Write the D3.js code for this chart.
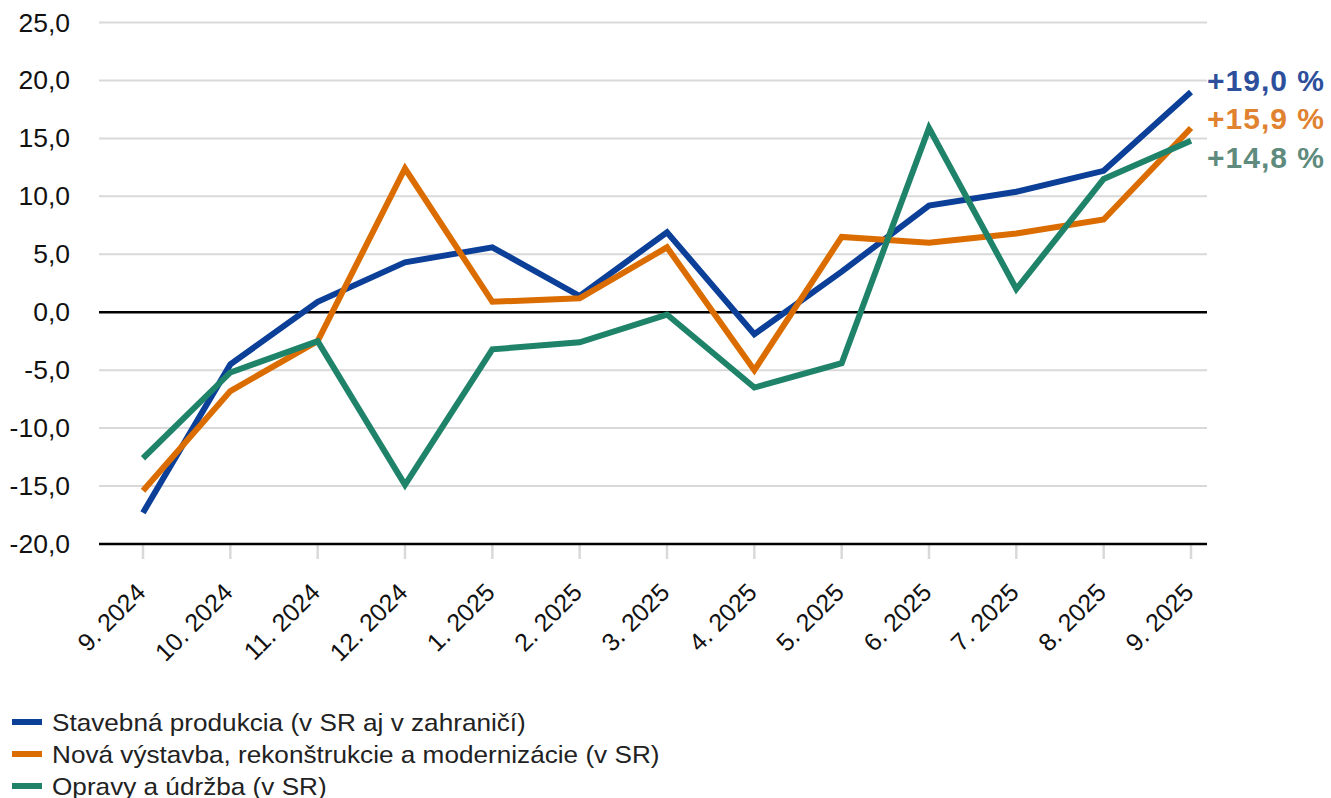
<!DOCTYPE html>
<html>
<head>
<meta charset="utf-8">
<script src="https://cdn.jsdelivr.net/npm/d3@7"></script>
<style>
  body { margin: 0; background: #fff; }
  text { font-family: "Liberation Sans", Arial, sans-serif; }
</style>
</head>
<body>
<div id="chart"></div>
<script>
// Data
var months = ["9. 2024", "10. 2024", "11. 2024", "12. 2024", "1. 2025", "2. 2025", "3. 2025",
  "4. 2025", "5. 2025", "6. 2025", "7. 2025", "8. 2025", "9. 2025"];
var stavebna = [-17.3, -4.5, 0.9, 4.3, 5.6, 1.4, 6.9, -1.9, 3.5, 9.2, 10.4, 12.2, 19.0];
var novaVystavba = [-15.4, -6.8, -2.5, 12.4, 0.9, 1.2, 5.6, -5.0, 6.5, 6.0, 6.8, 8.0, 15.9];
var opravy = [-12.6, -5.2, -2.5, -14.9, -3.2, -2.6, -0.2, -6.5, -4.4, 15.9, 2.0, 11.5, 14.8];
var yTicks = [-20, -15, -10, -5, 0, 5, 10, 15, 20, 25];
var seriesNames = ["Stavebná produkcia (v SR aj v zahraničí)",
  "Nová výstavba, rekonštrukcie a modernizácie (v SR)",
  "Opravy a údržba (v SR)"];
var endLabels = ["+19,0 %", "+15,9 %", "+14,8 %"];

var lineColors = ["#0b3f98", "#db6d00", "#1f836a"];
var labelColors = ["#2d4f9c", "#e0822f", "#5e8b7d"];

var svgWidth = 1331;
var svgHeight = 798;

var margin = { top: 22.5, right: 124, bottom: 254, left: 99 };
var width = svgWidth - margin.left - margin.right;
var height = svgHeight - margin.top - margin.bottom;

var svg = d3.select("#chart")
  .append("svg")
  .attr("width", svgWidth)
  .attr("height", svgHeight);

var chartGroup = svg.append("g")
  .attr("transform", `translate(${margin.left}, ${margin.top})`);

var xScale = d3.scalePoint()
  .domain(months)
  .range([44, width - 16]);

var yScale = d3.scaleLinear()
  .domain([-20, 25])
  .range([height, 0]);

// gridlines
chartGroup.selectAll(".grid")
  .data(yTicks.filter(d => d !== 0 && d !== -20))
  .enter()
  .append("line")
  .attr("x1", 0)
  .attr("x2", width)
  .attr("y1", d => yScale(d))
  .attr("y2", d => yScale(d))
  .attr("stroke", "#d9d9d9")
  .attr("stroke-width", 2);

// x tick marks
chartGroup.selectAll(".xtick")
  .data(months)
  .enter()
  .append("line")
  .attr("x1", d => xScale(d))
  .attr("x2", d => xScale(d))
  .attr("y1", height)
  .attr("y2", height + 15)
  .attr("stroke", "#d9d9d9")
  .attr("stroke-width", 2.5);

// zero line and bottom line
[0, -20].forEach(function(v) {
  chartGroup.append("line")
    .attr("x1", 0)
    .attr("x2", width)
    .attr("y1", yScale(v))
    .attr("y2", yScale(v))
    .attr("stroke", "#000")
    .attr("stroke-width", 2.5);
});

// y labels
var fmt = d => d3.format(".1f")(d).replace(".", ",").replace("−", "-");
chartGroup.selectAll(".ylabel")
  .data(yTicks)
  .enter()
  .append("text")
  .attr("text-anchor", "end")
  .attr("font-size", 25)
  .attr("fill", "#111")
  .attr("transform", d => `translate(-29, ${yScale(d)}) scale(1.06, 1)`)
  .attr("dy", "0.36em")
  .text(fmt);

// x labels
chartGroup.selectAll(".xlabel")
  .data(months)
  .enter()
  .append("text")
  .attr("text-anchor", "end")
  .attr("font-size", 25)
  .attr("fill", "#111")
  .attr("transform", d => `translate(${xScale(d) + 4}, ${height + 50}) rotate(-45)`)
  .text(d => d);

// lines
var allSeries = [stavebna, novaVystavba, opravy];
var line = d3.line()
  .x((d, i) => xScale(months[i]))
  .y(d => yScale(d));

allSeries.forEach(function(values, i) {
  chartGroup.append("path")
    .datum(values)
    .attr("d", line)
    .attr("fill", "none")
    .attr("stroke", lineColors[i])
    .attr("stroke-width", 6)
    .attr("stroke-linejoin", "miter");
});

// end labels
var endY = [90.5, 129, 168];
endLabels.forEach(function(t, i) {
  svg.append("text")
    .attr("x", 1207)
    .attr("y", endY[i])
    .attr("font-family", "Inter, 'Open Sans', sans-serif")
    .attr("font-weight", 800)
    .attr("font-size", 30)
    .attr("fill", labelColors[i])
    .attr("letter-spacing", 1)
    .text(t);
});

// legend
var legend = svg.append("g")
  .attr("transform", "translate(12, 722)");

seriesNames.forEach(function(name, i) {
  legend.append("line")
    .attr("x1", 0)
    .attr("x2", 30)
    .attr("y1", i * 32)
    .attr("y2", i * 32)
    .attr("stroke", lineColors[i])
    .attr("stroke-width", 6);
  legend.append("text")
    .attr("transform", `translate(40, ${i * 32}) scale(1.09, 1)`)
    .attr("dy", "0.36em")
    .attr("font-size", 24)
    .attr("fill", "#222")
    .text(name);
});
</script>
</body>
</html>
